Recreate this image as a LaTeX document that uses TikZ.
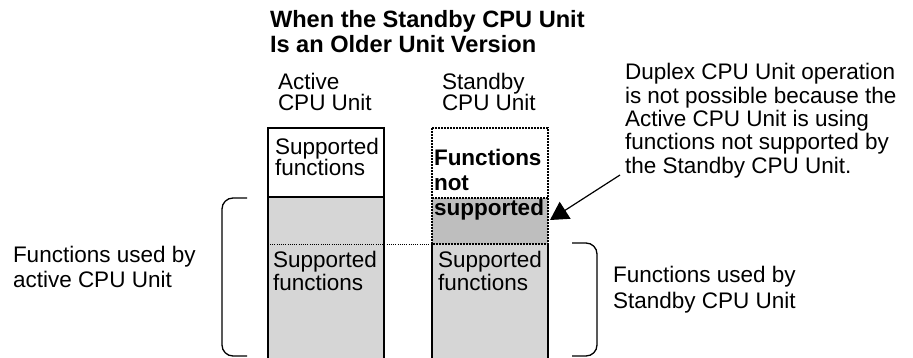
\documentclass[tikz,border=0pt]{standalone}
\usepackage{fontspec}
\setmainfont{Liberation Sans}
\usetikzlibrary{arrows.meta}
\definecolor{lightg}{RGB}{214,214,214}
\definecolor{darkg}{RGB}{190,190,190}
\newcommand\txtblock[2]{\vtop{\baselineskip=#1\lineskiplimit=-20pt\relax #2}}
\begin{document}
\begin{tikzpicture}[x=1pt,y=-1pt,
  txt/.style={inner sep=0pt, outer sep=0pt, anchor=base west, font=\fontsize{22.5}{23}\selectfont},
  colline/.style={line width=1.8pt, line cap=rect},
  dotline/.style={line width=2pt, dash pattern=on 2pt off 1pt},
  thindots/.style={line width=0.8pt, dash pattern=on 1pt off 1.2pt},
  bracket/.style={line width=1.3pt, rounded corners=11pt},
  callarrow/.style={line width=1.2pt, -{Triangle[length=18pt,width=20pt]}}]
\useasboundingbox (0,0) rectangle (913,358);
% left column (active CPU unit)
\fill[lightg] (268,197) rectangle (384,362);
\draw[colline] (268,362) -- (268,128) -- (384,128) -- (384,362);
\draw[colline] (268,197) -- (384,197);
% right column (standby CPU unit)
\fill[darkg] (432,198) rectangle (548,244);
\fill[lightg] (432,244) rectangle (548,362);
\draw[colline] (432,362) -- (432,244);
\draw[colline] (548,244) -- (548,362);
\draw[dotline] (432,128) rectangle (548,244);
\draw[dotline] (432,198) -- (548,198);
\draw[thindots] (270,244) -- (432,244);
\coordinate (unsup) at (550,220);
% brackets
\draw[bracket] (247,198) -- (222,198) -- (222,356) -- (247,356);
\draw[bracket] (572,243) -- (597,243) -- (597,356) -- (572,356);
% texts
\node[txt, font=\fontsize{23.6}{24}\selectfont\bfseries] (title) at (270,28)
  {\txtblock{24.5pt}{\hbox{When the Standby CPU Unit}\hbox{Is an Older Unit Version}}};
\node[txt] (active) at (278,90) {\txtblock{21pt}{\hbox{Active}\hbox{CPU Unit}}};
\node[txt] (standby) at (442,90) {\txtblock{21pt}{\hbox{Standby}\hbox{CPU Unit}}};
\node[txt] (asup1) at (275,155) {\txtblock{21pt}{\hbox{Supported}\hbox{functions}}};
\node[txt, font=\fontsize{22.5}{23}\selectfont\bfseries] (notsup) at (434,166)
  {\txtblock{25pt}{\hbox{Functions}\hbox{not}\hbox{supported}}};
\node[txt] (asup2) at (273,267) {\txtblock{23pt}{\hbox{Supported}\hbox{functions}}};
\node[txt] (ssup) at (438,267) {\txtblock{23pt}{\hbox{Supported}\hbox{functions}}};
\node[txt] (note) at (625,80) {\txtblock{23.3pt}{\hbox{Duplex CPU Unit operation}\hbox{is not possible because the}\hbox{Active CPU Unit is using}\hbox{functions not supported by}\hbox{the Standby CPU Unit.}}};
\node[txt] (usedact) at (13,262) {\txtblock{25pt}{\hbox{Functions used by}\hbox{active CPU Unit}}};
\node[txt] (usedstb) at (613,283) {\txtblock{25pt}{\hbox{Functions used by}\hbox{Standby CPU Unit}}};
\coordinate (notestart) at (620,175);
\draw[callarrow] (notestart) -- (unsup);
\end{tikzpicture}
\end{document}
